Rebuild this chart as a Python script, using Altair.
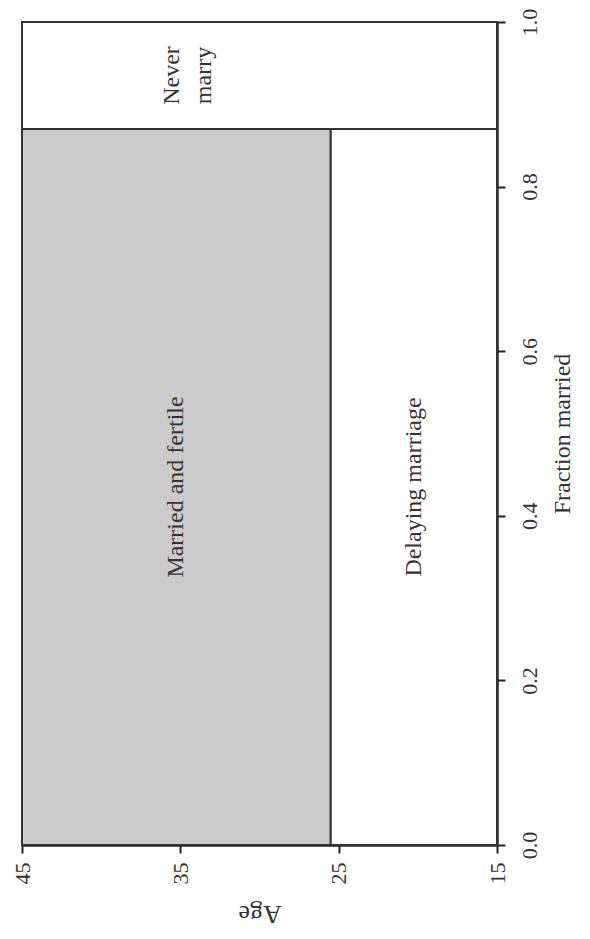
import altair as alt
import pandas as pd

# Regions of the diagram (age on horizontal axis, reversed; fraction married on right axis)
regions = ["Married and fertile", "Delaying marriage", "Never marry"]
age_start = [45, 25.5, 45]
age_end = [25.5, 15, 15]
frac_start = [0.0, 0.0, 0.87]
frac_end = [0.87, 0.87, 1.0]
fills = ["#cbcbcb", "#ffffff", "#ffffff"]

label_text = ["Married and fertile", "Delaying marriage", "Never\nmarry"]
label_age = [35.25, 20.25, 35.5]
label_frac = [0.435, 0.435, 0.935]

age_ticks = [45, 35, 25, 15]
frac_ticks = [0.0, 0.2, 0.4, 0.6, 0.8, 1.0]

rects = pd.DataFrame({
    "region": regions, "a0": age_start, "a1": age_end,
    "f0": frac_start, "f1": frac_end, "fill": fills,
})
labels = pd.DataFrame({"text": label_text, "age": label_age, "frac": label_frac})

FONT = "Liberation Serif"
W, H = 475, 823

xscale = alt.Scale(domain=[15, 45], reverse=True, nice=False, zero=False)
yscale = alt.Scale(domain=[0, 1], nice=False)

xaxis = alt.Axis(values=age_ticks, title="Age", titleAngle=180, labelAngle=270,
                 titleFontSize=26, labelPadding=9,
                 titleX=W / 2, titleY=68, titleBaseline="middle", titleAlign="center")
yaxis = alt.Axis(values=frac_ticks, format=".1f", orient="right", title="Fraction married",
                 titleAngle=270, labelAngle=270, titleFontSize=24, labelPadding=14,
                 titleX=65, titleY=H / 2, titleBaseline="middle", titleAlign="center")

base = alt.Chart(rects)

boxes = base.mark_rect(stroke="#333333", strokeWidth=2).encode(
    x=alt.X("a0:Q", scale=xscale, axis=xaxis),
    x2="a1:Q",
    y=alt.Y("f0:Q", scale=yscale, axis=yaxis),
    y2="f1:Q",
    fill=alt.Fill("fill:N", scale=None),
)

texts = alt.Chart(labels).mark_text(
    angle=270, font=FONT, fontSize=24, color="#333333", lineBreak="\n", lineHeight=32
).encode(
    x=alt.X("age:Q", scale=xscale),
    y=alt.Y("frac:Q", scale=yscale),
    text="text:N",
)

chart = alt.layer(boxes, texts).properties(
    width=W, height=H,
    autosize=alt.AutoSizeParams(type="none"),
    padding={"left": 14, "top": 14, "right": 85, "bottom": 86},
).configure_view(
    stroke="#222222", strokeWidth=2
).configure_axis(
    domainColor="#222222", domainWidth=2.5, tickColor="#222222", tickWidth=2,
    tickSize=8, grid=False, labelFont=FONT, titleFont=FONT, labelFontSize=22,
    labelColor="#333333", titleColor="#333333", titleFontWeight="normal",
)

chart.save("out.html", embed_options={"renderer": "svg", "actions": False})
